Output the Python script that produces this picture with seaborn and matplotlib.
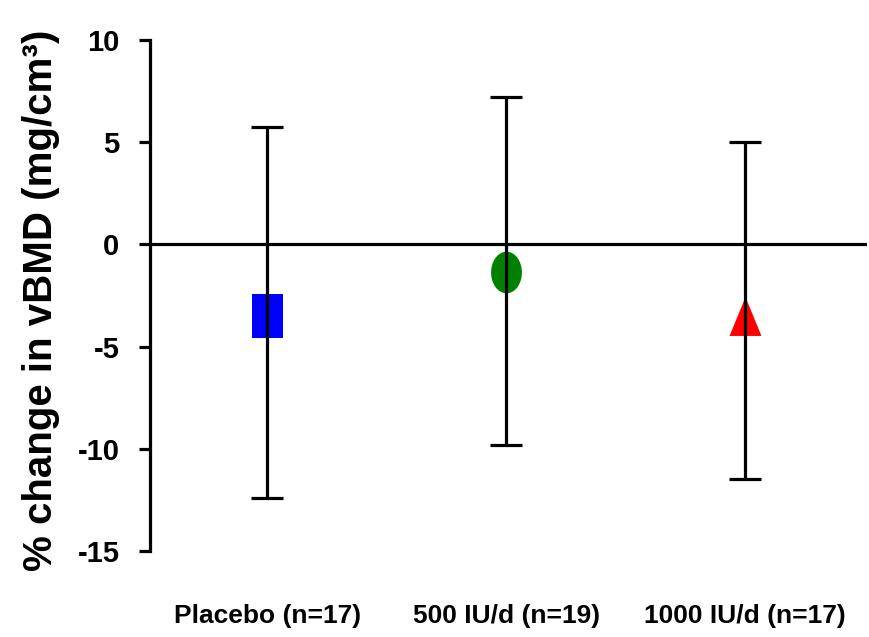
import numpy as np
import pandas as pd
import matplotlib
matplotlib.use("Agg")
import matplotlib.pyplot as plt
from matplotlib.path import Path
from matplotlib.transforms import Affine2D
import seaborn as sns

groups = ["Placebo (n=17)", "500 IU/d (n=19)", "1000 IU/d (n=17)"]
means = [-3.5, -1.35, -3.5]
upper = [5.75, 7.2, 5.0]
lower = [-12.4, -9.8, -11.5]
colors = ["#0000FF", "#008000", "#FF0000"]

yticks = [10, 5, 0, -5, -10, -15]

# markers in the original are stretched vertically
rect = Path([(-0.36, -0.5), (0.36, -0.5), (0.36, 0.5), (-0.36, 0.5), (-0.36, -0.5)], closed=True)
ellipse = Affine2D().scale(0.74, 1.0).transform_path(Path.unit_circle())
tri = Path([(0.0, 0.5), (0.41, -0.5), (-0.41, -0.5), (0.0, 0.5)], closed=True)
marker_shapes = dict(zip(groups, [rect, ellipse, tri]))
marker_sizes = [31, 30, 28]

df = pd.DataFrame({"group": groups, "mean": means})

sns.set_style("white")
plt.rcParams["font.family"] = ["Liberation Sans Narrow", "Liberation Sans", "DejaVu Sans"]
for key in ["text.color", "axes.labelcolor", "xtick.color", "ytick.color"]:
    plt.rcParams[key] = "black"

fig = plt.figure(figsize=(8.69, 6.37), dpi=100)
ax = fig.add_axes([150 / 869, 86 / 637, 717 / 869, 511 / 637])

ax.axhline(0, color="black", lw=2.3, zorder=1)

for i, g in enumerate(groups):
    sns.scatterplot(
        data=df[df["group"] == g],
        x="group",
        y="mean",
        marker=marker_shapes[g],
        color=colors[i],
        s=marker_sizes[i] ** 2,
        linewidth=0,
        ax=ax,
        zorder=2,
        legend=False,
    )

err = np.array([
    [m - lo for m, lo in zip(means, lower)],
    [up - m for m, up in zip(means, upper)],
])
ax.errorbar(
    range(len(groups)), means, yerr=err, fmt="none",
    ecolor="black", elinewidth=2.3, capsize=11.5, capthick=2.3, zorder=3
)

ax.set_xlim(-0.49, 2.51)
ax.set_ylim(-15, 10)
ax.set_yticks(yticks)
ax.set_yticklabels([str(t) for t in yticks], fontsize=21, fontweight="bold")
ax.set_xticks(range(len(groups)))
ax.set_xticklabels(groups, fontsize=19, fontweight="bold")

for side in ["top", "right", "bottom"]:
    ax.spines[side].set_visible(False)
ax.spines["left"].set_linewidth(2.3)
ax.spines["left"].set_color("black")
ax.tick_params(axis="y", direction="out", length=8, width=2.3, pad=14, left=True)
ax.tick_params(axis="x", length=0, pad=38)

ax.set_xlabel("")
ax.set_ylabel("% change in vBMD (mg/cm³)", fontsize=29, fontweight="bold")
ax.yaxis.set_label_coords(-0.126, 0.49)

fig.savefig("out.png", dpi=100)
